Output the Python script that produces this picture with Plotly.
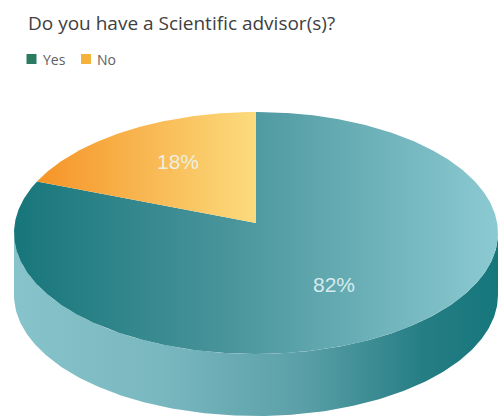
import numpy as np
import plotly.graph_objects as go

# ---- data ----
categories = ["Yes", "No"]
values = [82, 18]
labels = ["82%", "18%"]
title_text = "Do you have a Scientific advisor(s)?"

# ---- styling / geometry ----
W, H = 498, 417
cx, cy = 256, 233          # ellipse centre (pixels)
rx, ry = 242, 121          # ellipse radii
apex = (256, 223)          # where slices meet
depth = 62                 # thickness of the pie wall

top_scales = {
    "Yes": [[0, "#17767a"], [0.45, "#4a959c"], [1, "#8ccad2"]],
    "No": [[0, "#f59427"], [1, "#fcdb7d"]],
}
wall_scale = [[0, "#86c3cb"], [0.3, "#7ab8c0"], [0.6, "#5a9fa7"],
              [0.85, "#247d83"], [1, "#15777c"]]
legend_colors = {"Yes": "#2b7a62", "No": "#f4b23a"}


def pt(t_deg, dy=0.0):
    t = np.radians(t_deg)
    return cx + rx * np.cos(t), cy - ry * np.sin(t) + dy


fig = go.Figure()

# wall (front half of the cylinder)
ts = np.linspace(180, 360, 200)
xt, yt = pt(ts)
xb, yb = pt(ts[::-1], depth)
fig.add_trace(go.Scatter(
    x=np.concatenate([xt, xb]), y=np.concatenate([yt, yb]),
    mode="lines", line=dict(width=0), fill="toself",
    fillgradient=dict(type="horizontal", colorscale=wall_scale),
    hoverinfo="skip", showlegend=False))

# top-face slices: first slice starts at 12 o'clock going clockwise
total = sum(values)
start = 90.0
label_pos = []
for cat, v in zip(categories, values):
    sweep = 360.0 * v / total
    ang = np.linspace(start, start - sweep, max(int(sweep * 2), 10))
    ax_, ay_ = pt(ang)
    xs = np.concatenate([[apex[0]], ax_, [apex[0]]])
    ys = np.concatenate([[apex[1]], ay_, [apex[1]]])
    fig.add_trace(go.Scatter(
        x=xs, y=ys, mode="lines", line=dict(width=0), fill="toself",
        fillgradient=dict(type="horizontal", colorscale=top_scales[cat]),
        hoverinfo="skip", showlegend=False, name=cat))
    mid = np.radians(start - sweep / 2)
    label_pos.append((apex[0] + 0.6 * rx * np.cos(mid),
                      apex[1] - 0.6 * ry * np.sin(mid)))
    start -= sweep

for (lx, ly), txt in zip(label_pos, labels):
    fig.add_annotation(x=lx, y=ly, text=txt, showarrow=False,
                       font=dict(family="Liberation Sans", size=21,
                                 color="rgba(235,248,250,0.85)"))

# legend (manual, compact)
leg_x = [31.5, 86]
for cat, lx in zip(categories, leg_x):
    fig.add_trace(go.Scatter(
        x=[lx], y=[59], mode="markers",
        marker=dict(symbol="square", size=10, color=legend_colors[cat]),
        hoverinfo="skip", showlegend=False))
    fig.add_annotation(x=lx + 9, y=59, text=cat, showarrow=False,
                       xanchor="left", yanchor="middle",
                       font=dict(family="Open Sans", size=14, color="#606060"))

fig.add_annotation(x=26, y=23, xref="x", yref="y", text=title_text,
                   showarrow=False, xanchor="left", yanchor="middle",
                   font=dict(family="Open Sans", size=19, color="#404040"))

fig.update_layout(
    width=W, height=H, margin=dict(l=0, r=0, t=0, b=0),
    paper_bgcolor="white", plot_bgcolor="white",
    xaxis=dict(range=[0, W], visible=False, fixedrange=True),
    yaxis=dict(range=[H, 0], visible=False, fixedrange=True),
    showlegend=False,
)

fig.write_html("out.html", config={"displayModeBar": False},
               post_script="document.body.style.margin='0px';"
                           "document.body.style.overflow='hidden';")
